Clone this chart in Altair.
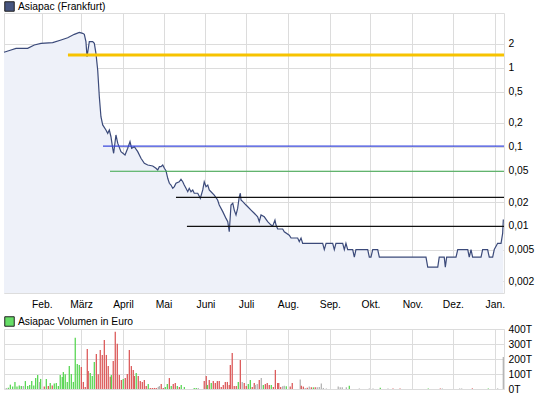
import json
import altair as alt
import pandas as pd

# ---------------- data ----------------
# x in "Tag" = day of year 2008 (1 = 1 Jan 2008, 367 = 1 Jan 2009)
PRICE_DAYS = [4.0, 9.2, 12.9, 21.5, 26.4, 31.4, 40.0, 46.2, 51.1, 56.0, 59.7, 62.2, 63.4, 64.6, 65.4,
              67.1, 69.6, 70.8, 72.0, 73.3, 74.5, 75.7, 77.0, 79.4, 80.7, 81.9, 83.1, 84.4, 85.1, 86.8,
              88.1, 90.5, 93.5, 95.5, 97.2, 98.4, 100.4, 102.9, 105.3, 107.8, 110.3, 114.0, 116.4, 117.7,
              118.9, 120.1, 121.4, 122.6, 123.8, 125.1, 126.3, 127.5, 128.8, 130.0, 131.2, 133.6, 134.9,
              136.2, 137.3, 138.6, 139.9, 141.0, 142.3, 143.6, 144.7, 147.3, 149.2, 151.0, 152.1, 153.4,
              154.7, 155.8, 157.1, 159.5, 162.0, 163.2, 165.8, 168.2, 169.5, 170.6, 171.9, 173.2, 174.3,
              175.6, 176.8, 178.0, 178.8, 179.3, 180.6, 183.0, 184.3, 186.7, 189.1, 191.6, 192.8, 194.1,
              196.5, 199.0, 201.5, 202.7, 204.4, 205.2, 206.4, 210.1, 211.3, 215.0, 216.3, 221.2, 222.4,
              223.7, 224.9, 239.7, 240.9, 242.2, 247.1, 248.3, 249.5, 254.5, 255.7, 256.9, 258.2, 261.9,
              263.1, 264.3, 273.0, 274.2, 275.4, 276.7, 280.4, 281.6, 316.1, 317.4, 324.8, 325.9, 329.6,
              330.4, 331.4, 338.3, 339.6, 347.0, 348.1, 349.4, 350.6, 356.8, 358.0, 361.7, 362.9, 365.4,
              366.6, 369.1, 371.6, 372.8, 373.3]
PRICES = [1.57, 1.68, 1.76, 1.76, 1.94, 2.04, 2.08, 2.25, 2.40, 2.65, 2.81, 2.73, 2.65, 2.14, 1.38,
          2.14, 2.14, 2.04, 1.52, 0.937, 0.430, 0.240, 0.189, 0.163, 0.148, 0.163, 0.134, 0.0957, 0.0827, 0.141,
          0.111, 0.0867, 0.0787, 0.0957, 0.116, 0.0957, 0.100, 0.0867, 0.0715, 0.0618, 0.0588, 0.0571, 0.0534, 0.0508,
          0.0560, 0.0560, 0.0588, 0.0534, 0.0498, 0.0399, 0.0345, 0.0328, 0.0298, 0.0313, 0.0345, 0.0361, 0.0388,
          0.0361, 0.0328, 0.0298, 0.0270, 0.0298, 0.0270, 0.0284, 0.0258, 0.0258, 0.0223, 0.0284, 0.0361, 0.0313,
          0.0328, 0.0284, 0.0270, 0.0245, 0.0212, 0.0183, 0.0151, 0.0124, 0.0113, 0.00841, 0.0183, 0.0193, 0.0158,
          0.0137, 0.0166, 0.0233, 0.0258, 0.0212, 0.0202, 0.0183, 0.0174, 0.0158, 0.0144, 0.0130, 0.0113, 0.0137,
          0.0130, 0.0113, 0.0102, 0.0099, 0.0118, 0.0102, 0.0091, 0.0091, 0.0084, 0.0076, 0.0070, 0.0070, 0.0063,
          0.0070, 0.0060, 0.0060, 0.0050, 0.0060, 0.0060, 0.0050, 0.0060, 0.0060, 0.0050, 0.0060, 0.0050, 0.0050,
          0.0040, 0.0050, 0.0050, 0.0040, 0.0040, 0.0050, 0.0050, 0.0040, 0.0040, 0.0030, 0.0030, 0.0040, 0.0040,
          0.0030, 0.0040, 0.0040, 0.0050, 0.0050, 0.0040, 0.0050, 0.0040, 0.0040, 0.0050, 0.0050, 0.0040, 0.0040,
          0.0050, 0.0060, 0.0060, 0.0080, 0.0120]

# horizontal marker lines: level and start day (they run to the right edge)
GOLD_LEVEL, GOLD_START = [1.45], [51.3]
BLUE_LEVEL, BLUE_START = [0.102], [77.2]
GREEN_LEVEL, GREEN_START = [0.049], [82.4]
BLACK_LEVELS, BLACK_STARTS = [0.0229, 0.00985], [131.2, 139.3]

# volume (in thousand euro = "T")
VOL_DAYS = [5.7, 7.2, 8.7, 10.4, 12.1, 13.6, 15.3, 16.8, 18.3, 19.8, 21.5, 23.0, 24.5, 26.0, 27.4, 28.9,
            30.4, 31.1, 33.8, 35.3, 36.8, 38.2, 39.7, 41.2, 42.7, 44.2, 45.6, 47.1, 47.9, 49.3, 50.8, 52.3,
            53.8, 55.3, 56.7, 58.2, 59.7, 61.2, 62.7, 64.1, 65.6, 66.3, 67.8, 69.3, 70.8, 72.3, 73.7, 75.2,
            76.7, 78.2, 79.7, 81.1, 82.6, 83.4, 84.8, 86.3, 87.8, 89.3, 90.8, 92.2, 93.7, 95.2, 96.7, 98.2,
            99.6, 100.4, 101.8, 103.3, 104.8, 106.3, 107.8, 109.2, 110.7, 112.2, 113.7, 115.2, 116.6, 118.1,
            118.9, 120.3, 121.8, 123.3, 124.8, 126.3, 127.7, 129.2, 130.7, 132.2, 133.7, 135.1, 137.4, 144.7,
            146.2, 147.7, 152.1, 153.6, 154.4, 155.8, 157.3, 158.8, 160.3, 161.8, 163.2, 164.7, 166.2, 167.7,
            169.2, 170.6, 171.4, 172.8, 174.3, 175.8, 177.3, 178.8, 180.2, 181.7, 183.2, 184.7, 186.2, 187.6,
            189.1, 189.9, 191.3, 192.8, 194.3, 195.8, 197.3, 198.7, 200.2, 201.7, 203.2, 204.7, 206.4, 207.2,
            208.6, 210.1, 211.3, 212.8, 215.7, 217.2, 223.1, 223.9, 225.4, 226.8, 228.3, 229.8, 231.3, 232.8,
            234.2, 235.7, 237.2, 238.7, 240.2, 242.4, 251.2, 252.7, 254.2, 257.2, 259.4, 266.8, 274.2, 276.9,
            282.3, 288.0, 291.7, 296.9, 317.8, 326.7, 328.2, 341.0, 342.5, 350.4, 362.2, 369.1, 373.3]
VOLUMES = [7, 9, 29, 16, 47, 16, 24, 20, 20, 53, 20, 27, 53, 24, 73, 93,
           47, 67, 16, 67, 20, 40, 24, 36, 40, 20, 93, 80, 113, 98, 47, 153,
           100, 47, 342, 167, 160, 147, 47, 13, 267, 120, 107, 87, 180, 233, 98, 260,
           227, 327, 227, 153, 82, 93, 187, 382, 302, 93, 60, 67, 73, 100, 260, 153,
           127, 87, 107, 87, 53, 47, 60, 20, 33, 7, 7, 7, 7, 13,
           20, 33, 7, 13, 33, 73, 20, 33, 40, 20, 13, 27, 13, 7,
           7, 7, 53, 87, 27, 60, 40, 53, 40, 53, 53, 13, 27, 47,
           47, 27, 160, 240, 20, 20, 47, 193, 47, 40, 20, 33, 60, 13,
           40, 27, 33, 60, 73, 27, 33, 40, 27, 27, 13, 127, 40, 40,
           13, 18, 22, 18, 16, 40, 63, 22, 16, 7, 9, 16, 11, 11,
           11, 11, 13, 36, 7, 4, 16, 11, 11, 11, 22, 4, 4, 4,
           9, 4, 4, 4, 4, 4, 4, 4, 4, 4, 4, 4, 213]
# u = steigend (up), d = fallend (down), n = unverändert
VOL_DIR = list("nuuuuuuunuuuuuuu"
               "nudududuuuuuuuuu"
               "uuuuuddddduuudddd"
               "dddduddddduddddddudd"
               "ddduddddnndduud"
               "udduduuuund"
               "dududddddddddddddudnddu"
               "uddnndnudddudddddnnu"
               "ddnddndndudnnnnnnnnnu"
               "nnnunddudnnndunnnnd"
               "u")

MONTH_DAYS = [32, 61, 92, 122, 153, 183, 214, 245, 275, 306, 336, 367]
MONTH_LABELS = ["Feb.", "März", "April", "Mai", "Juni", "Juli", "Aug.", "Sep.", "Okt.", "Nov.", "Dez.", "Jan."]
PRICE_TICKS = [0.002, 0.005, 0.01, 0.02, 0.05, 0.1, 0.2, 0.5, 1, 2]
VOL_TICKS = [0, 100, 200, 300, 400]

DAY_DOMAIN = [4, 373.8]
PRICE_DOMAIN = [0.00141, 4.935]

PRICE_NAME = "Asiapac (Frankfurt)"
VOL_NAME = "Asiapac Volumen in Euro"

# ---------------- styling ----------------
FONT = "Liberation Sans"
FS = 10.3
GRID = "#dcdcdc"

dir_map = {"u": "steigend", "d": "fallend", "n": "unverändert"}
n = min(len(VOL_DAYS), len(VOLUMES), len(VOL_DIR))
vol_df = pd.DataFrame({"tag": VOL_DAYS[:n], "vol": VOLUMES[:n], "richtung": [dir_map[c] for c in VOL_DIR[:n]]})
price_df = pd.DataFrame({"tag": PRICE_DAYS, "kurs": PRICES})

label_expr = (json.dumps(MONTH_LABELS, ensure_ascii=False)
              + "[indexof(" + json.dumps(MONTH_DAYS) + ", datum.value)]")

x_main = alt.X("tag:Q", scale=alt.Scale(domain=DAY_DOMAIN, nice=False, zero=False),
               axis=alt.Axis(values=MONTH_DAYS, labelExpr=label_expr, grid=True, gridColor=GRID,
                             ticks=False, domain=False, title=None, labelPadding=6,
                             labelFont=FONT, labelFontSize=FS, labelColor="black", labelOverlap=False))
y_main = alt.Y("kurs:Q", scale=alt.Scale(type="log", domain=PRICE_DOMAIN, nice=False),
               axis=alt.Axis(orient="right", values=PRICE_TICKS, grid=True, gridColor=GRID,
                             labelExpr="replace(format(datum.value, '~g'), '.', ',')",
                             ticks=False, domain=False, title=None, labelPadding=4,
                             labelFont=FONT, labelFontSize=FS, labelColor="black", labelOverlap=False))

base = alt.Chart(price_df)
area = base.mark_area(color="#eef1f9", opacity=1).encode(x=x_main, y=y_main, y2=alt.Y2(datum=PRICE_DOMAIN[0]))
line = base.mark_line(color="#3b4a7a", strokeWidth=1.2, interpolate="linear").encode(x=x_main, y=y_main)


def level_layer(levels, starts, color, width):
    df = pd.DataFrame({"tag": starts, "kurs": levels})
    return alt.Chart(df).mark_rule(color=color, strokeWidth=width).encode(
        x=x_main, x2=alt.X2(datum=DAY_DOMAIN[1]), y=y_main)


gold = level_layer(GOLD_LEVEL, GOLD_START, "#f7c300", 3)
blue = level_layer(BLUE_LEVEL, BLUE_START, "#3a48dc", 1.3)
green = level_layer(GREEN_LEVEL, GREEN_START, "#3aa64a", 1.2)
black = level_layer(BLACK_LEVELS, BLACK_STARTS, "#111111", 1.3)

legend_common = dict(orient="none", legendX=0, title=None, symbolType="square", symbolSize=90,
                     symbolStrokeColor="#222222", symbolStrokeWidth=1, labelFont=FONT,
                     labelFontSize=FS, labelColor="black", labelOffset=3, padding=0)

price_key = alt.Chart(pd.DataFrame({"tag": [PRICE_DAYS[0]], "kurs": [PRICES[0]], "serie": [PRICE_NAME]})).mark_square(
    opacity=0).encode(
    x=x_main, y=y_main,
    color=alt.Color("serie:N", scale=alt.Scale(domain=[PRICE_NAME], range=["#46557f"]),
                    legend=alt.Legend(legendY=-12, **legend_common)))

main = alt.layer(area, line, gold, blue, green, black, price_key).properties(width=500, height=280)

x_vol = alt.X("tag:Q", scale=alt.Scale(domain=DAY_DOMAIN, nice=False, zero=False),
              axis=alt.Axis(values=MONTH_DAYS, labels=False, grid=True, gridColor=GRID,
                            ticks=False, domain=False, title=None))
y_vol = alt.Y("vol:Q", scale=alt.Scale(domain=[0, 400], nice=False),
              axis=alt.Axis(orient="right", values=VOL_TICKS, grid=True, gridColor=GRID,
                            labelExpr="datum.value + 'T'", ticks=False, domain=False, title=None,
                            labelPadding=4, labelFont=FONT, labelFontSize=FS, labelColor="black",
                            labelOverlap=False, labelBound=False, labelFlush=False))

bars = alt.Chart(vol_df).mark_rule(strokeWidth=1.3).encode(
    x=x_vol, y=y_vol, y2=alt.Y2(datum=0),
    color=alt.Color("richtung:N", scale=alt.Scale(domain=["steigend", "fallend", "unverändert"],
                                                  range=["#5ad655", "#dc5c5c", "#b4b4b4"]), legend=None))
vol_key = alt.Chart(pd.DataFrame({"tag": [VOL_DAYS[0]], "vol": [0], "serie": [VOL_NAME]})).mark_square(
    opacity=0).encode(
    x=x_vol, y=y_vol,
    color=alt.Color("serie:N", scale=alt.Scale(domain=[VOL_NAME], range=["#66dd66"]),
                    legend=alt.Legend(legendY=-13, **legend_common)))

vol = alt.layer(bars, vol_key).resolve_scale(color="independent").properties(width=500, height=60)

chart = alt.vconcat(main, vol, spacing=36, bounds="flush").resolve_scale(
    color="independent").resolve_legend(color="independent").properties(
    padding={"left": 0, "top": 0, "right": 2, "bottom": 2}
).configure_view(stroke=GRID, strokeWidth=1).configure(font=FONT, background="white")

chart.save("out.html", embed_options={"renderer": "svg", "actions": False})
